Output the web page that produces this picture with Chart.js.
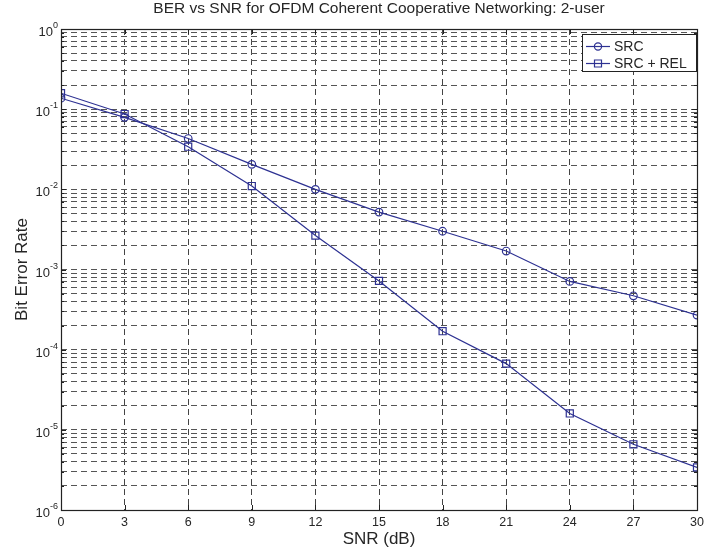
<!DOCTYPE html>
<html>
<head>
<meta charset="utf-8">
<title>BER vs SNR</title>
<script src="https://cdn.jsdelivr.net/npm/chart.js@4"></script>
<style>
  html, body { margin: 0; padding: 0; background: #fff; }
  #wrap { width: 720px; height: 548px; }
</style>
</head>
<body>
<div id="wrap"><canvas id="berChart" width="720" height="548"></canvas></div>
<script>
// SNR-Werte (dB) und BER-Kurven
const snrDb = [0, 3, 6, 9, 12, 15, 18, 21, 24, 27, 30];
const berSrc = [0.137, 0.079, 0.043, 0.0205, 0.0100, 0.0052, 0.0030, 0.0017, 0.00071, 0.00047, 0.00027];
const berSrcRel = [0.158, 0.087, 0.034, 0.011, 0.00265, 0.00072, 0.00017, 0.000067, 0.000016, 0.0000066, 0.0000034];
const seriesNames = ['SRC', 'SRC + REL'];
const xTicks = [0, 3, 6, 9, 12, 15, 18, 21, 24, 27, 30];
const yExponents = [-6, -5, -4, -3, -2, -1, 0];

const lineColor = '#2d3192';
const textColor = '#262626';
const fontFamily = '"Liberation Sans", Arial, Helvetica, sans-serif';

// alle log-Gitterlinien: 1..9 x 10^k
function logTicks() {
    const ticks = [];
    for (let i = 0; i < yExponents.length; i++) {
        const base = Math.pow(10, yExponents[i]);
        if (i === yExponents.length - 1) {
            ticks.push({ value: base, major: true });
            break;
        }
        for (let m = 1; m <= 9; m++) {
            ticks.push({ value: m * base, major: m === 1 });
        }
    }
    return ticks;
}

// Rahmen, Titel, Achsenbeschriftungen und Legende im MATLAB-Stil
const matlabDecor = {
    id: 'matlabDecor',
    afterDraw(chart) {
        const ctx = chart.ctx;
        const area = chart.chartArea;
        const xs = chart.scales.x;
        const ys = chart.scales.y;
        ctx.save();

        // kurze Tickstriche nach innen
        ctx.strokeStyle = '#222';
        ctx.lineWidth = 1;
        ctx.beginPath();
        xs.ticks.forEach(t => {
            const px = Math.round(xs.getPixelForValue(t.value)) + 0.5;
            ctx.moveTo(px, area.bottom); ctx.lineTo(px, area.bottom - 5);
            ctx.moveTo(px, area.top); ctx.lineTo(px, area.top + 5);
        });
        ys.ticks.forEach(t => {
            const py = Math.round(ys.getPixelForValue(t.value)) + 0.5;
            const len = t.major ? 5 : 3;
            ctx.moveTo(area.left, py); ctx.lineTo(area.left + len, py);
            ctx.moveTo(area.right, py); ctx.lineTo(area.right - len, py);
        });
        ctx.stroke();

        // Achsenrahmen
        ctx.strokeStyle = '#222';
        ctx.lineWidth = 1.2;
        ctx.strokeRect(area.left + 0.5, area.top + 0.5, area.right - area.left, area.bottom - area.top);

        // y-Beschriftung 10^k
        ctx.fillStyle = textColor;
        yExponents.forEach(e => {
            const py = ys.getPixelForValue(Math.pow(10, e));
            const expText = String(e);
            ctx.font = '9px ' + fontFamily;
            const expW = ctx.measureText(expText).width;
            const expX = area.left - 3 - expW;
            ctx.textAlign = 'left';
            ctx.textBaseline = 'alphabetic';
            ctx.fillText(expText, expX, py - 1);
            ctx.font = '13px ' + fontFamily;
            ctx.textAlign = 'right';
            ctx.fillText('10', expX, py + 7);
        });

        // Titel
        const cx = (area.left + area.right) / 2;
        ctx.font = '15.5px ' + fontFamily;
        ctx.textAlign = 'center';
        ctx.textBaseline = 'alphabetic';
        ctx.fillText('BER vs SNR for OFDM Coherent Cooperative Networking: 2-user', cx, 13);

        // x-Achsentitel
        ctx.font = '17px ' + fontFamily;
        ctx.fillText('SNR (dB)', cx, 543.5);

        // y-Achsentitel
        ctx.save();
        ctx.translate(27, (area.top + area.bottom) / 2);
        ctx.rotate(-Math.PI / 2);
        ctx.fillText('Bit Error Rate', 0, 0);
        ctx.restore();

        // Legende
        const lx = 582, ly = 34, lw = 114, lh = 37;
        ctx.fillStyle = '#fff';
        ctx.fillRect(lx, ly, lw, lh);
        ctx.strokeStyle = '#222';
        ctx.lineWidth = 1;
        ctx.strokeRect(lx + 0.5, ly + 0.5, lw, lh);
        chart.data.datasets.forEach((ds, i) => {
            const rowY = ly + 12 + i * 17;
            ctx.strokeStyle = lineColor;
            ctx.lineWidth = 1.2;
            ctx.beginPath();
            ctx.moveTo(lx + 4, rowY + 0.5);
            ctx.lineTo(lx + 28, rowY + 0.5);
            ctx.stroke();
            const mx = lx + 16;
            ctx.beginPath();
            if (ds.pointStyle === 'circle') {
                ctx.arc(mx, rowY + 0.5, 3.6, 0, Math.PI * 2);
            } else {
                ctx.rect(mx - 3.5, rowY - 3, 7, 7);
            }
            ctx.stroke();
            ctx.fillStyle = textColor;
            ctx.font = '14px ' + fontFamily;
            ctx.textAlign = 'left';
            ctx.textBaseline = 'middle';
            ctx.fillText(ds.label, lx + 32, rowY + 1);
        });

        ctx.restore();
    }
};

const ctx = document.getElementById('berChart');
new Chart(ctx, {
    type: 'line',
    data: {
        datasets: [{
            label: seriesNames[0],
            data: snrDb.map((x, i) => ({ x: x, y: berSrc[i] })),
            borderColor: lineColor,
            backgroundColor: 'rgba(0,0,0,0)',
            borderWidth: 1.2,
            pointStyle: 'circle',
            pointRadius: 3.8,
            pointBorderWidth: 1.2,
            pointBorderColor: lineColor,
            pointBackgroundColor: 'rgba(0,0,0,0)',
            tension: 0
        }, {
            label: seriesNames[1],
            data: snrDb.map((x, i) => ({ x: x, y: berSrcRel[i] })),
            borderColor: lineColor,
            backgroundColor: 'rgba(0,0,0,0)',
            borderWidth: 1.2,
            pointStyle: 'rect',
            pointRadius: 5,
            pointBorderWidth: 1.2,
            pointBorderColor: lineColor,
            pointBackgroundColor: 'rgba(0,0,0,0)',
            tension: 0
        }]
    },
    options: {
        responsive: false,
        animation: false,
        layout: { padding: { top: 29, right: 23, left: 0, bottom: 0 } },
        plugins: {
            legend: { display: false },
            title: { display: false },
            tooltip: { enabled: false }
        },
        scales: {
            x: {
                type: 'linear',
                min: 0,
                max: 30,
                afterBuildTicks: scale => { scale.ticks = xTicks.map(v => ({ value: v })); },
                afterFit: scale => { scale.height = 38; },
                grid: { color: '#444', lineWidth: 1, drawTicks: false },
                border: { display: false, dash: [6, 4] },
                ticks: {
                    padding: 5,
                    color: textColor,
                    font: { family: fontFamily, size: 12.5 },
                    maxRotation: 0
                }
            },
            y: {
                type: 'logarithmic',
                min: 1e-6,
                max: 1,
                afterBuildTicks: scale => { scale.ticks = logTicks(); },
                afterFit: scale => { scale.width = 61; },
                grid: { color: '#555', lineWidth: 1, drawTicks: false },
                border: { display: false, dash: [6, 4] },
                ticks: { display: false }
            }
        }
    },
    plugins: [matlabDecor]
});
</script>
</body>
</html>
